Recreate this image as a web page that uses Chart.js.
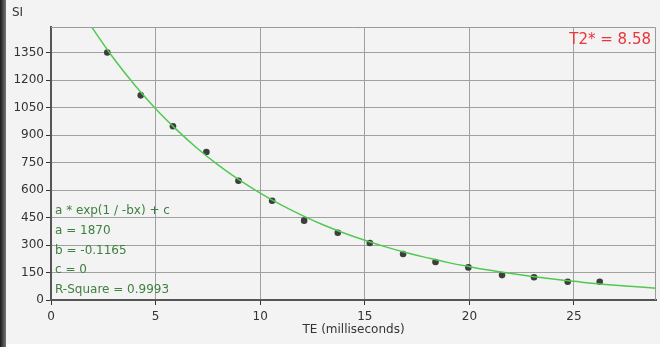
<!DOCTYPE html>
<html>
<head>
<meta charset="utf-8">
<script src="https://cdn.jsdelivr.net/npm/chart.js@4"></script>
<style>
  body { margin: 0; background: #fff; }
  #wrap { position: relative; width: 664px; height: 347px; }
  #panel { position: absolute; left: 6px; top: 0; width: 654px; height: 344px; background: #f3f3f3; }
  #edge { position: absolute; left: 0; top: 0; width: 6px; height: 347px; background: linear-gradient(to right, #1a1a1a, #777); }
  canvas { position: absolute; left: 0; top: 0; }
</style>
</head>
<body>
<div id="wrap">
  <div id="edge"></div>
  <div id="panel"></div>
  <canvas id="chart" width="664" height="347"></canvas>
</div>
<script>
// measured signal vs echo time
const te = [2.69, 4.29, 5.83, 7.43, 8.96, 10.57, 12.10, 13.71, 15.24, 16.83, 18.38, 19.95, 21.56, 23.09, 24.70, 26.23];
const si = [1351, 1117, 948, 808, 651, 542, 433, 367, 311, 251, 207, 178, 136, 124, 100, 100];

// fitted curve
const fitTe = [1.5, 2, 3, 4, 5, 6, 7, 8, 9, 10, 11, 12, 13, 14, 15, 16, 17, 18, 19, 20, 21, 22, 23, 24, 25, 26, 27, 28, 29];
const fitSi = [1570, 1481, 1318, 1173, 1044, 930, 827, 736, 655, 583, 519, 462, 411, 366, 326, 290, 258, 230, 204, 182, 162, 144, 128, 114, 102, 90, 80, 72, 64];

const yTicks = [0, 150, 300, 450, 600, 750, 900, 1050, 1200, 1350];
const xTicks = [0, 5, 10, 15, 20, 25];

const fitLines = ['a * exp(1 / -bx) + c', 'a = 1870', 'b = -0.1165', 'c = 0', 'R-Square = 0.9993'];
const t2Label = 'T2* = 8.58';

const FONT = 'DejaVu Sans';

const textPlugin = {
    id: 'texts',
    afterDraw(chart) {
        const c = chart.ctx, a = chart.chartArea;
        c.save();
        // top/right frame
        c.strokeStyle = '#9a9a9a';
        c.lineWidth = 1;
        c.beginPath();
        c.moveTo(a.left, a.top + 0.5);
        c.lineTo(a.right - 0.5, a.top + 0.5);
        c.lineTo(a.right - 0.5, a.bottom);
        c.stroke();
        // fit parameters
        c.font = '12px ' + FONT;
        c.fillStyle = '#3f7f3f';
        c.textAlign = 'left';
        c.textBaseline = 'middle';
        for (let i = 0; i < fitLines.length; i++) {
            c.fillText(fitLines[i], a.left + 4, 211 + i * 19.75);
        }
        // T2* label
        c.font = '15px ' + FONT;
        c.fillStyle = '#e8343c';
        c.textAlign = 'right';
        c.fillText(t2Label, a.right - 5, 40);
        // SI label
        c.font = '12px ' + FONT;
        c.fillStyle = '#333';
        c.textAlign = 'left';
        c.fillText('SI', 12, 13);
        c.restore();
    }
};

const ctx = document.getElementById('chart').getContext('2d');
const myChart = new Chart(ctx, {
    type: 'scatter',
    data: {
        datasets: [{
            data: fitTe.map((x, i) => ({ x: x, y: fitSi[i] })),
            showLine: true,
            borderColor: '#52c852',
            borderWidth: 1.5,
            pointRadius: 0,
            tension: 0.4,
            fill: false
        }, {
            data: te.map((x, i) => ({ x: x, y: si[i] })),
            pointRadius: 3.3,
            pointBackgroundColor: '#3d3d3d',
            pointBorderWidth: 0
        }]
    },
    options: {
        responsive: false,
        animation: false,
        events: [],
        layout: { padding: { left: 0, top: 27, right: 8, bottom: 0 } },
        plugins: {
            legend: { display: false },
            tooltip: { enabled: false }
        },
        scales: {
            x: {
                type: 'linear',
                min: 0,
                max: 28.92,
                afterFit: s => { s.height = 47; },
                afterBuildTicks: s => { s.ticks = xTicks.map(v => ({ value: v })); },
                ticks: { color: '#333', font: { family: FONT, size: 12 }, padding: 5, maxRotation: 0, callback: v => String(v) },
                grid: { color: '#a0a0a0', tickColor: '#333', tickLength: 5 },
                border: { color: '#555', width: 2 },
                title: { display: true, text: 'TE (milliseconds)', color: '#333', font: { family: FONT, size: 12 }, padding: { top: 0, bottom: 10 } }
            },
            y: {
                min: 0,
                max: 1490,
                afterFit: s => { s.width = 51; },
                afterBuildTicks: s => { s.ticks = yTicks.map(v => ({ value: v })); },
                ticks: { color: '#333', font: { family: FONT, size: 12 }, padding: 2, callback: v => String(v) },
                grid: { color: '#a0a0a0', tickColor: '#333', tickLength: 5 },
                border: { color: '#555', width: 2 }
            }
        }
    },
    plugins: [textPlugin]
});
</script>
</body>
</html>
